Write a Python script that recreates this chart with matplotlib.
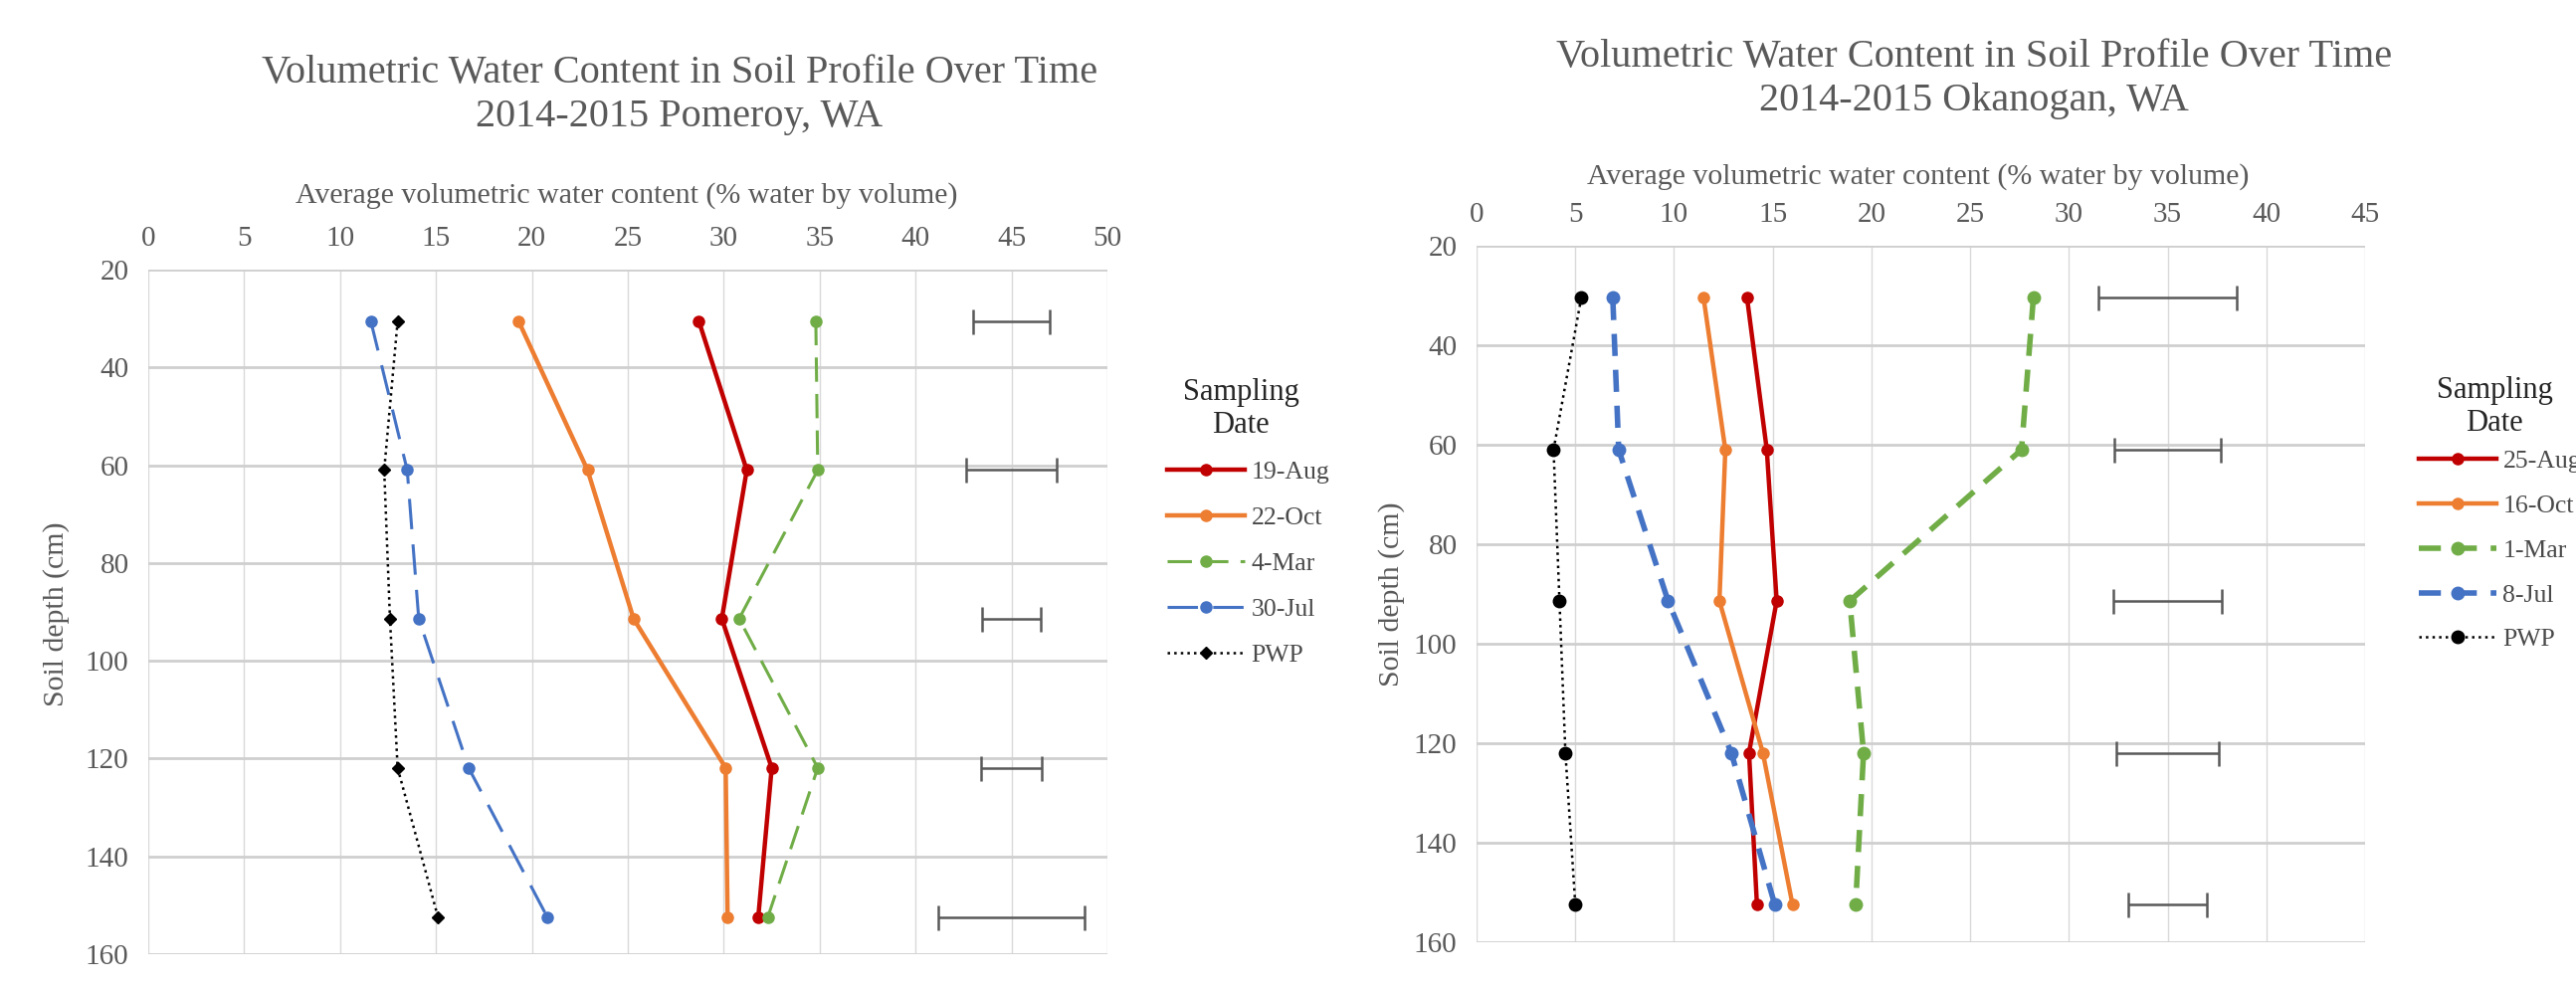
import matplotlib
matplotlib.use('Agg')
import matplotlib.pyplot as plt
import numpy as np

W, H = 2589, 992

depth = [30.5, 61.0, 91.4, 121.9, 152.4]

# Pomeroy (left)
pom_labels = ['19-Aug', '22-Oct', '4-Mar', '30-Jul', 'PWP']
pom_aug = [28.7, 31.2, 29.9, 32.5, 31.8]
pom_oct = [19.3, 22.9, 25.3, 30.1, 30.2]
pom_mar = [34.8, 34.9, 30.8, 34.9, 32.3]
pom_jul = [11.6, 13.5, 14.1, 16.7, 20.8]
pom_pwp = [13.0, 12.3, 12.6, 13.0, 15.1]
pom_err_center = [45.0, 45.0, 45.0, 45.0, 45.0]
pom_err = [2.0, 2.35, 1.55, 1.6, 3.8]

# Okanogan (right)
oka_labels = ['25-Aug', '16-Oct', '1-Mar', '8-Jul', 'PWP']
oka_aug = [13.7, 14.7, 15.2, 13.8, 14.2]
oka_oct = [11.5, 12.6, 12.3, 14.5, 16.0]
oka_mar = [28.2, 27.6, 18.9, 19.6, 19.2]
oka_jul = [6.9, 7.2, 9.7, 12.9, 15.1]
oka_pwp = [5.3, 3.9, 4.2, 4.5, 5.0]
oka_err_center = [35.0, 35.0, 35.0, 35.0, 35.0]
oka_err = [3.5, 2.7, 2.75, 2.6, 2.0]

RED, ORANGE, GREEN, BLUE = '#C00000', '#ED7D31', '#70AD47', '#4472C4'
TXT = '#595959'

plt.rcParams['font.family'] = ['Liberation Serif', 'DejaVu Serif']


def box(x0, y0, x1, y1):
    return [x0 / W, 1 - y1 / H, (x1 - x0) / W, (y1 - y0) / H]


def setup(ax, xmax):
    ax.set_xlim(0, xmax)
    ax.set_ylim(160, 20)
    ax.set_xticks(np.arange(0, xmax + 1, 5))
    ax.set_yticks(np.arange(20, 161, 20))
    ax.xaxis.tick_top()
    ax.tick_params(length=0, labelsize=21, labelcolor=TXT)
    ax.tick_params(axis='x', pad=13)
    ax.tick_params(axis='y', pad=14)
    for s in ax.spines.values():
        s.set_visible(False)
    ax.grid(axis='x', color='#d9d9d9', linewidth=1.0)
    ax.grid(axis='y', color='#cfcfcf', linewidth=2.0)
    ax.set_axisbelow(True)


def add_legend(ax, x, y, spacing, tx, ty):
    ax.legend(loc='upper left', bbox_to_anchor=(x / W, 1 - y / H),
              bbox_transform=fig.transFigure, frameon=False, fontsize=18.5,
              numpoints=1, handlelength=3.05, labelspacing=spacing,
              handletextpad=0.23, labelcolor='#4a4a4a')
    fig.text(tx / W, 1 - ty / H, 'Sampling\nDate', ha='center', va='center',
             fontsize=22, color='#262626', linespacing=1.15)


fig = plt.figure(figsize=(W / 100, H / 100), dpi=100)

# left panel
ax1 = fig.add_axes(box(149, 271, 1113, 959))
setup(ax1, 50)
ax1.plot(pom_aug, depth, color=RED, lw=3.2, marker='o', ms=8, label=pom_labels[0])
ax1.plot(pom_oct, depth, color=ORANGE, lw=3.2, marker='o', ms=8, label=pom_labels[1])
ax1.plot(pom_mar, depth, color=GREEN, lw=2.2, marker='o', ms=8, dashes=(8, 4), label=pom_labels[2])
ax1.plot(pom_jul, depth, color=BLUE, lw=2.2, marker='o', ms=8, dashes=(10, 5), label=pom_labels[3])
ax1.plot(pom_pwp, depth, color='black', lw=1.8, marker='D', ms=6, ls=':', label=pom_labels[4])
ax1.errorbar(pom_err_center, depth, xerr=pom_err, fmt='none', ecolor='#595959',
             elinewidth=1.8, capsize=9, capthick=1.8)
add_legend(ax1, 1150, 440, 0.89, 1247, 411)

fig.text(683 / W, 1 - 96 / H, 'Volumetric Water Content in Soil Profile Over Time\n2014-2015 Pomeroy, WA',
         ha='center', va='center', fontsize=29, color=TXT, linespacing=1.25)
fig.text(630 / W, 1 - 197 / H, 'Average volumetric water content (% water by volume)',
         ha='center', va='center', fontsize=21.5, color=TXT)
fig.text(57 / W, 1 - 617 / H, 'Soil depth (cm)', ha='center', va='center',
         rotation=90, fontsize=21.5, color=TXT)

# right panel
ax2 = fig.add_axes(box(1484, 247, 2377, 947))
setup(ax2, 45)
ax2.plot(oka_aug, depth, color=RED, lw=3.2, marker='o', ms=8, label=oka_labels[0])
ax2.plot(oka_oct, depth, color=ORANGE, lw=3.2, marker='o', ms=8, label=oka_labels[1])
ax2.plot(oka_mar, depth, color=GREEN, lw=4.0, marker='o', ms=9, dashes=(4, 2.5), label=oka_labels[2])
ax2.plot(oka_jul, depth, color=BLUE, lw=4.0, marker='o', ms=9, dashes=(4, 2.5), label=oka_labels[3])
ax2.plot(oka_pwp, depth, color='black', lw=1.8, marker='o', ms=9, ls=':', label=oka_labels[4])
ax2.errorbar(oka_err_center, depth, xerr=oka_err, fmt='none', ecolor='#595959',
             elinewidth=1.8, capsize=9, capthick=1.8)
add_legend(ax2, 2408, 429, 0.85, 2507, 409)

fig.text(1984 / W, 1 - 80 / H, 'Volumetric Water Content in Soil Profile Over Time\n2014-2015 Okanogan, WA',
         ha='center', va='center', fontsize=29, color=TXT, linespacing=1.25)
fig.text(1928 / W, 1 - 178 / H, 'Average volumetric water content (% water by volume)',
         ha='center', va='center', fontsize=21.5, color=TXT)
fig.text(1399 / W, 1 - 597 / H, 'Soil depth (cm)', ha='center', va='center',
         rotation=90, fontsize=21.5, color=TXT)

fig.savefig('out.png', dpi=100)
